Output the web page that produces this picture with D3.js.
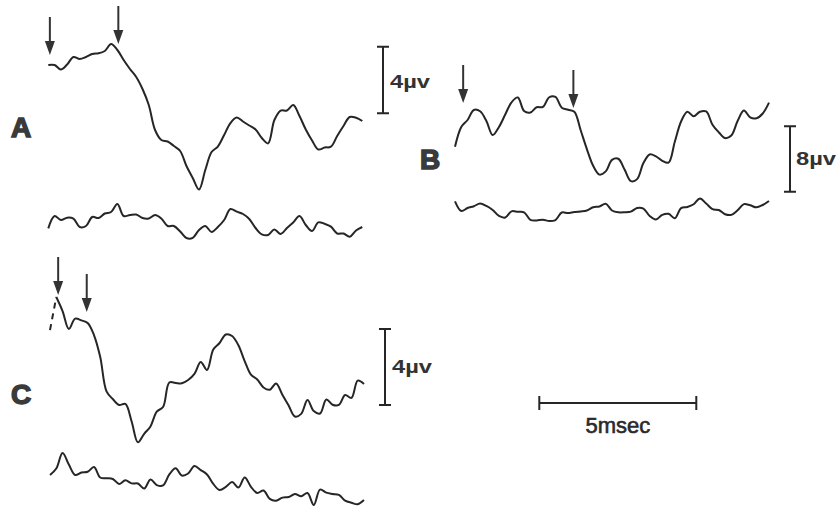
<!DOCTYPE html>
<html lang="en">
<head>
    <meta charset="UTF-8">
    <title>Evoked responses A, B, C</title>
    <script src="https://d3js.org/d3.v7.min.js"></script>
    <style>
        body { margin: 0; background: #fff; }
        svg { display: block; }
    </style>
</head>
<body>
<div id="chart"></div>
<script>
    // sample times (ms), one point every 0.2 ms
    const timeMs = d3.range(0, 10.001, 0.2);

    // traces in microvolts
    const traceAMain = [0, 0, -0.27, 0.03, 0.48, 0.36, 0.48, 0.66, 0.70, 0.84,
        1.26, 0.90, 0.30, -0.24, -0.72, -1.44, -2.40, -3.90, -4.50, -4.59,
        -4.86, -5.16, -6.06, -6.78, -7.47, -6.30, -5.22, -4.89, -4.20, -3.48,
        -3.15, -3.39, -3.63, -3.87, -4.38, -4.70, -3.30, -2.73, -2.73, -2.40,
        -3.06, -3.87, -4.53, -5.07, -4.95, -4.90, -4.26, -3.66, -3.12, -3.16, -3.36];
    const traceANoise = [-0.50, 0.24, 0, 0.14, 0.08, -0.42, -0.36, 0.18, 0.12, 0.39,
        0.48, 0.96, 0.24, 0.30, 0.33, 0.12, 0.09, 0.30, 0.09, -0.36,
        -0.36, -0.69, -1.08, -1.07, -0.60, -0.36, -0.72, -0.42, 0, 0.66,
        0.50, 0.36, 0.06, -0.48, -0.86, -0.90, -0.57, -0.84, -0.48, -0.15,
        0.24, -0.30, -0.66, -0.14, -0.23, -0.40, -0.81, -0.81, -1.00, -0.63, -0.42];

    const traceBMain = [-3.26, -0.85, 0, 1.22, 1.06, -0.12, -1.83, -0.85, 0.67, 2.16,
        2.75, 1.10, 0.92, 1.55, 1.59, 2.77, 2.81, 1.50, 1.24, 1.01,
        -1.22, -3.54, -5.58, -6.65, -6.26, -4.86, -4.72, -6.03, -7.44, -7.20,
        -5.25, -4.20, -4.43, -4.97, -5.19, -2.65, -0.18, 1.01, 0.45, 1.01,
        1.04, -0.57, -1.49, -2.20, -1.89, -0.12, 1.15, 0.32, 0.21, 0.79, 2.11];
    const traceBNoise = [1.06, -0.12, 0.24, 0.46, 0.79, 0.49, 0, -0.73, -0.92, -0.16,
        -0.22, -0.28, -1.20, -1.27, -1.18, -1.34, -1.22, -0.31, -0.37, -0.24,
        -0.17, -0.06, 0.33, 0.43, 0.76, -0.06, -0.28, -0.28, -0.20, 0.24,
        0.17, -0.73, -1.15, -0.59, -0.46, -1.00, 0.22, 0.37, 0.70, 1.40,
        0.79, 0.10, 0, -0.51, -0.59, -0.04, 0.72, 0.57, 0.32, 0.61, 1.10];

    const traceCMain = [-0.53, 1.21, 0.47, -0.47, 0.07, -0.02, -0.16, -0.79, -1.95, -3.76,
        -4.16, -4.47, -4.42, -5.34, -6.44, -5.99, -5.60, -4.82, -4.58, -3.29,
        -3.31, -3.33, -3.16, -2.84, -2.21, -2.63, -1.55, -1.21, -0.76, -0.84,
        -1.33, -2.16, -2.88, -3.13, -3.55, -3.67, -3.34, -3.93, -4.50, -5.08,
        -4.94, -4.21, -4.79, -4.92, -4.18, -4.46, -4.47, -3.95, -4.10, -3.19, -3.37];
    const traceCNoise = [0, 0.34, 1.16, 0.55, 0, 0.13, 0.17, 0.42, -0.13, -0.17,
        -0.21, -0.47, -0.28, -0.44, -0.45, -0.71, -0.24, -0.53, -0.55, 0.03,
        0.36, -0.03, 0.08, 0.47, 0.26, 0.03, -0.47, -0.79, -0.63, -0.37,
        -0.66, -0.13, -0.62, -0.95, -0.82, -1.26, -1.35, -1.19, -1.16, -1.00,
        -1.12, -0.95, -1.58, -0.77, -0.93, -1.00, -1.05, -1.35, -1.46, -1.54, -1.32];

    // stimulus markers (ms)
    const arrowsA = [0.05, 2.23];
    const arrowsB = [0.26, 3.77];
    const arrowsC = [0.26, 1.17];

    // calibration values
    const calibA = 4, calibB = 8, calibC = 4;   // µV
    const timeBar = 5;                          // ms

    const width = 838, height = 512;
    const pxPerMs = 31.4;
    const ink = "#262626";

    const svg = d3.select("#chart").append("svg")
        .attr("width", width)
        .attr("height", height);

    const panels = [
        { label: "A", labelX: 11, labelY: 137, x0: 48.3, pxPerUV: 16.67,
          main: traceAMain, mainBase: 65, noise: traceANoise, noiseBase: 220,
          arrows: arrowsA, arrowTips: [55, 44],
          calib: calibA, calibX: 383, calibBottom: -2.9, calibText: "4µv", calibTextX: 390, calibTextY: 88 },
        { label: "B", labelX: 420, labelY: 169, x0: 455, pxPerUV: 8.21,
          main: traceBMain, mainBase: 120, noise: traceBNoise, noiseBase: 210,
          arrows: arrowsB, arrowTips: [103, 108],
          calib: calibB, calibX: 790, calibBottom: -8.75, calibText: "8µv", calibTextX: 796, calibTextY: 165 },
        { label: "C", labelX: 11, labelY: 404, x0: 50, pxPerUV: 19,
          main: traceCMain, mainBase: 320, noise: traceCNoise, noiseBase: 475,
          arrows: arrowsC, arrowTips: [295, 312],
          calib: calibC, calibX: 385, calibBottom: -4.47, calibText: "4µv", calibTextX: 392, calibTextY: 373 }
    ];

    panels.forEach(p => {
        const x = d3.scaleLinear()
            .domain([0, 10])
            .range([p.x0, p.x0 + 10 * pxPerMs]);

        const yScale = base => d3.scaleLinear()
            .domain([-1, 1])
            .range([base + p.pxPerUV, base - p.pxPerUV]);
        const yMain = yScale(p.mainBase);
        const yNoise = yScale(p.noiseBase);

        const lineFor = y => d3.line()
            .x((d, i) => x(timeMs[i]))
            .y(d => y(d))
            .curve(d3.curveCatmullRom.alpha(0.5));

        const g = svg.append("g").attr("class", "panel-" + p.label);

        // main response
        if (p.label === "C") {
            // start of C trace is broken in the original
            g.append("path")
                .attr("d", lineFor(yMain)(p.main.slice(0, 2)))
                .attr("fill", "none")
                .attr("stroke", ink)
                .attr("stroke-width", 2)
                .attr("stroke-dasharray", "6,5");
            g.append("path")
                .attr("d", d3.line()
                    .x((d, i) => x(timeMs[i + 1]))
                    .y(d => yMain(d))
                    .curve(d3.curveCatmullRom.alpha(0.5))(p.main.slice(1)))
                .attr("fill", "none")
                .attr("stroke", ink)
                .attr("stroke-width", 2)
                .attr("stroke-linejoin", "round");
        } else {
            g.append("path")
                .attr("d", lineFor(yMain)(p.main))
                .attr("fill", "none")
                .attr("stroke", ink)
                .attr("stroke-width", 2)
                .attr("stroke-linejoin", "round");
        }

        // noise trace underneath
        g.append("path")
            .attr("d", lineFor(yNoise)(p.noise))
            .attr("fill", "none")
            .attr("stroke", ink)
            .attr("stroke-width", 2)
            .attr("stroke-linejoin", "round");

        // arrows
        p.arrows.forEach((t, i) => {
            const ax = x(t), tip = p.arrowTips[i];
            g.append("line")
                .attr("x1", ax).attr("x2", ax)
                .attr("y1", tip - 38).attr("y2", tip - 10)
                .attr("stroke", "#333")
                .attr("stroke-width", 2);
            g.append("path")
                .attr("d", `M${ax - 5},${tip - 14} L${ax + 5},${tip - 14} L${ax},${tip} Z`)
                .attr("fill", "#333");
        });

        // amplitude calibration bar
        const top = yMain(p.calibBottom + p.calib), bottom = yMain(p.calibBottom);
        g.append("path")
            .attr("d", `M${p.calibX - 6},${top} H${p.calibX + 6} M${p.calibX},${top} V${bottom} M${p.calibX - 6},${bottom} H${p.calibX + 6}`)
            .attr("fill", "none")
            .attr("stroke", ink)
            .attr("stroke-width", 2);
        g.append("text")
            .attr("x", p.calibTextX)
            .attr("y", p.calibTextY)
            .attr("font-family", "Liberation Sans, Arial, sans-serif")
            .attr("font-size", 19)
            .attr("font-weight", "bold")
            .attr("fill", "#333")
            .attr("textLength", 40)
            .attr("lengthAdjust", "spacingAndGlyphs")
            .text(p.calibText);

        // panel letter
        g.append("text")
            .attr("x", p.labelX)
            .attr("y", p.labelY)
            .attr("font-family", "Liberation Sans, Arial, sans-serif")
            .attr("font-size", 28)
            .attr("font-weight", "bold")
            .attr("fill", "#3a3a3a")
            .attr("stroke", "#3a3a3a")
            .attr("stroke-width", 1.5)
            .text(p.label);
    });

    // time calibration bar
    const xBar = d3.scaleLinear().domain([0, timeBar]).range([539.3, 539.3 + timeBar * pxPerMs]);
    svg.append("path")
        .attr("d", `M${xBar(0)},403 H${xBar(timeBar)} M${xBar(0)},396 V410 M${xBar(timeBar)},396 V410`)
        .attr("fill", "none")
        .attr("stroke", ink)
        .attr("stroke-width", 2);
    svg.append("text")
        .attr("x", (xBar(0) + xBar(timeBar)) / 2)
        .attr("y", 433)
        .attr("text-anchor", "middle")
        .attr("font-family", "Liberation Sans, Arial, sans-serif")
        .attr("font-size", 22)
        .attr("fill", "#2a2a2a")
        .attr("stroke", "#2a2a2a")
        .attr("stroke-width", 0.6)
        .text(timeBar + "msec");
</script>
</body>
</html>
